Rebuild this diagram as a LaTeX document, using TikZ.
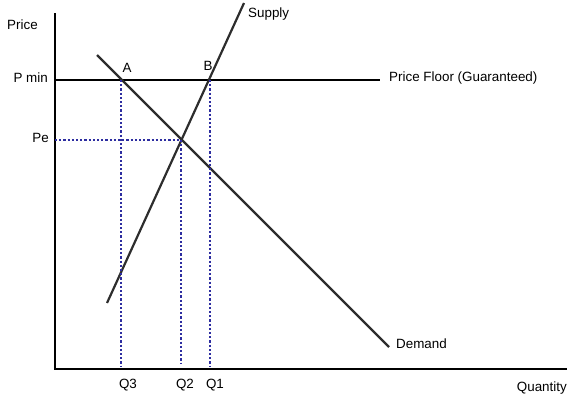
\documentclass[tikz,border=0pt]{standalone}
\usepackage{fontspec}
\setmainfont{Liberation Sans}
\definecolor{guideblue}{RGB}{45,45,160}
\definecolor{curvegray}{RGB}{45,45,45}
\begin{document}
\begin{tikzpicture}[x=1pt, y=-1pt, font=\fontsize{13.4}{15}\selectfont,
  axis/.style={draw, line width=2.4pt},
  curve/.style={draw, curvegray, line width=2.2pt},
  guide/.style={draw, guideblue, line width=2.4pt, dash pattern=on 2.2pt off 2pt},
  lbl/.style={inner sep=0pt}]
  \useasboundingbox (0,0) rectangle (577,400);
  \coordinate (O) at (55,369);
  \coordinate (ytop) at (55,13);
  \coordinate (xend) at (567,369);
  \coordinate (pmin) at (55,80);
  \coordinate (floorend) at (380,80);
  \coordinate (pe) at (55,140);
  \coordinate (dtop) at (97,55);
  \coordinate (dbot) at (389,347);
  \coordinate (sbot) at (107,303);
  \coordinate (stop) at (244,3);
  \coordinate (A) at (121,80);
  \coordinate (B) at (210,80);
  \coordinate (E) at (181,140);
  \coordinate (q3) at (121,366);
  \coordinate (q2) at (181,364);
  \coordinate (q1) at (210,366);
  \node[lbl, anchor=west] (price) at (7,25) {Price};
  \node[lbl, anchor=east] (pminlbl) at (48,78) {P min};
  \node[lbl, anchor=east] (pelbl) at (49,138) {Pe};
  \node[lbl] (albl) at (127,68) {A};
  \node[lbl] (blbl) at (208,66) {B};
  \node[lbl, anchor=west] (supply) at (248,14) {Supply};
  \node[lbl, anchor=west] (floor) at (389,78) {Price Floor (Guaranteed)};
  \node[lbl, anchor=west] (demand) at (396,344) {Demand};
  \node[lbl, anchor=east] (quantity) at (567,388) {Quantity};
  \node[lbl] (q3lbl) at (128,385) {Q3};
  \node[lbl] (q2lbl) at (185,385) {Q2};
  \node[lbl] (q1lbl) at (215,385) {Q1};
  \draw[axis] (ytop) -- (O) -- (xend);
  \draw[axis] (pmin) -- (floorend);
  \draw[curve] (dtop) -- (dbot);
  \draw[curve] (sbot) -- (stop);
  \draw[guide] (pe) -- (E);
  \draw[guide] (A) -- (q3);
  \draw[guide] (E) -- (q2);
  \draw[guide] (B) -- (q1);
\end{tikzpicture}
\end{document}
